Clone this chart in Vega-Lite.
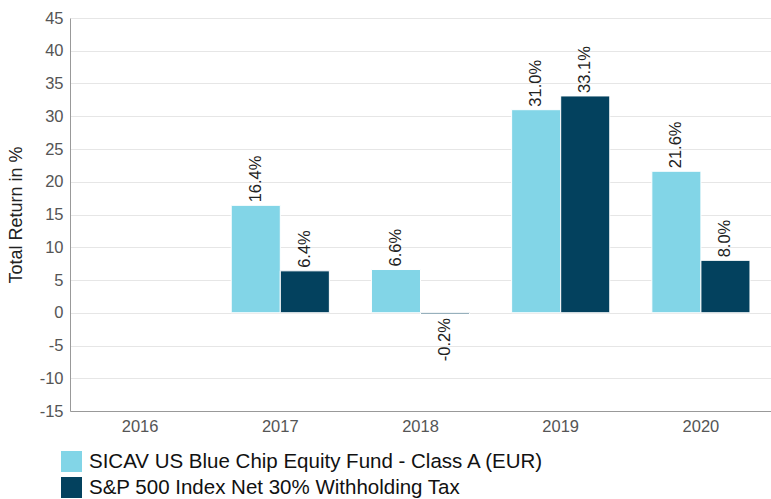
{
  "$schema": "https://vega.github.io/schema/vega-lite/v6.json",
  "autosize": "none",
  "width": 701,
  "height": 393,
  "padding": {"left": 70, "top": 18, "right": 0, "bottom": 88},
  "config": {
    "font": "Liberation Sans",
    "view": {"stroke": null},
    "axis": {"labelFont": "Liberation Sans", "titleFont": "Liberation Sans"}
  },
  "data": {
    "values": [
      {"year": "2017", "series": "SICAV US Blue Chip Equity Fund - Class A (EUR)", "value": 16.4, "label": "16.4%"},
      {"year": "2017", "series": "S&P 500 Index Net 30% Withholding Tax", "value": 6.4, "label": "6.4%"},
      {"year": "2018", "series": "SICAV US Blue Chip Equity Fund - Class A (EUR)", "value": 6.6, "label": "6.6%"},
      {"year": "2018", "series": "S&P 500 Index Net 30% Withholding Tax", "value": -0.2, "label": "-0.2%"},
      {"year": "2019", "series": "SICAV US Blue Chip Equity Fund - Class A (EUR)", "value": 31.0, "label": "31.0%"},
      {"year": "2019", "series": "S&P 500 Index Net 30% Withholding Tax", "value": 33.1, "label": "33.1%"},
      {"year": "2020", "series": "SICAV US Blue Chip Equity Fund - Class A (EUR)", "value": 21.6, "label": "21.6%"},
      {"year": "2020", "series": "S&P 500 Index Net 30% Withholding Tax", "value": 8.0, "label": "8.0%"}
    ]
  },
  "encoding": {
    "x": {
      "field": "year", "type": "nominal",
      "scale": {"domain": ["2016", "2017", "2018", "2019", "2020"], "paddingInner": 0.3, "paddingOuter": 0.15},
      "axis": {"title": null, "labelAngle": 0, "labelFontSize": 16.5, "labelColor": "#555555", "labelPadding": 7, "ticks": false, "domainColor": "#999999", "grid": false}
    },
    "xOffset": {"field": "series", "type": "nominal", "sort": ["SICAV US Blue Chip Equity Fund - Class A (EUR)", "S&P 500 Index Net 30% Withholding Tax"], "scale": {"paddingInner": 0}},
    "y": {
      "field": "value", "type": "quantitative",
      "scale": {"domain": [-15, 45], "nice": false, "zero": false},
      "axis": {"title": "Total Return in %", "titleFontSize": 18, "titleFontWeight": "normal", "titleColor": "#222222", "titlePadding": 14, "values": [-15, -10, -5, 0, 5, 10, 15, 20, 25, 30, 35, 40, 45], "labelExpr": "'' + datum.value", "labelFontSize": 16.5, "labelColor": "#555555", "labelPadding": 7, "ticks": false, "domainColor": "#999999", "gridColor": "#e6e6e6"}
    }
  },
  "layer": [
    {
      "mark": {"type": "bar", "stroke": "white", "strokeWidth": 1},
      "encoding": {
        "color": {
          "field": "series", "type": "nominal",
          "scale": {"domain": ["SICAV US Blue Chip Equity Fund - Class A (EUR)", "S&P 500 Index Net 30% Withholding Tax"], "range": ["#82d5e7", "#03415e"]},
          "legend": {"title": null, "orient": "none", "legendX": -9, "legendY": 433, "direction": "vertical", "symbolType": "square", "symbolSize": 441, "symbolStrokeWidth": 0, "labelFontSize": 20.5, "labelColor": "#111111", "labelOffset": 7, "rowPadding": 5, "labelLimit": 700}
        }
      }
    },
    {
      "transform": [{"filter": "datum.value >= 0"}],
      "mark": {"type": "text", "angle": -90, "align": "left", "baseline": "middle", "dx": 3, "fontSize": 16.5, "color": "#222222"},
      "encoding": {"text": {"field": "label"}}
    },
    {
      "transform": [{"filter": "datum.value < 0"}],
      "mark": {"type": "text", "angle": -90, "align": "right", "baseline": "middle", "dx": -4, "fontSize": 16.5, "color": "#222222"},
      "encoding": {"text": {"field": "label"}}
    }
  ]
}
